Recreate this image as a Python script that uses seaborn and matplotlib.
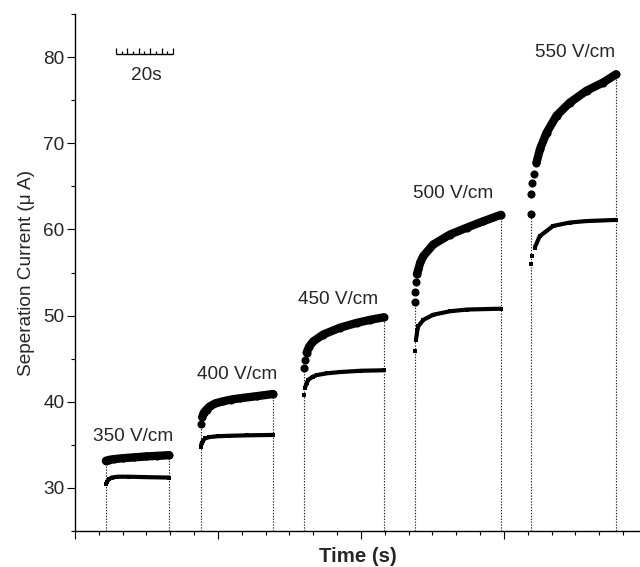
import numpy as np
import pandas as pd
import matplotlib
matplotlib.use("Agg")
import matplotlib.pyplot as plt
from matplotlib.ticker import MultipleLocator, FixedLocator, NullFormatter
import seaborn as sns

# ---------------- data ----------------
field_labels = ["350 V/cm", "400 V/cm", "450 V/cm", "500 V/cm", "550 V/cm"]
seg_start = [10.8, 44.0, 80.1, 118.9, 159.4]          # s, start of each run

# times relative to segment start (s) and current (uA)
t_up_350 = [0, 1, 3, 6, 10, 14, 18, 22.1]
i_up_350 = [33.15, 33.25, 33.35, 33.45, 33.55, 33.65, 33.72, 33.8]
t_lo_350 = [0, 0.4, 1, 2, 4, 8, 14, 22.1]
i_lo_350 = [30.4, 30.7, 31.0, 31.2, 31.3, 31.3, 31.25, 31.2]

t_up_400 = [0, 0.5, 1, 2, 3.1, 5, 7.7, 10.5, 13.6, 19.6, 25.3]
i_up_400 = [37.45, 38.2, 38.7, 39.1, 39.45, 39.8, 40.05, 40.25, 40.4, 40.65, 40.9]
t_lo_400 = [0, 0.3, 0.8, 1.5, 3, 6, 10, 16, 25.3]
i_lo_400 = [34.8, 35.2, 35.5, 35.75, 35.9, 36.0, 36.05, 36.1, 36.15]

t_up_450 = [0, 0.35, 0.9, 1.8, 3.2, 6.7, 12.6, 18.4, 23, 27.9]
i_up_450 = [43.9, 44.9, 45.7, 46.4, 47.0, 47.8, 48.6, 49.15, 49.5, 49.8]
t_lo_450 = [0, 0.3, 1.0, 1.5, 3.0, 4.5, 8, 12.6, 20, 27.9]
i_lo_450 = [40.8, 41.6, 42.2, 42.55, 42.9, 43.1, 43.3, 43.45, 43.6, 43.65]

t_up_500 = [0, 0.15, 0.35, 0.7, 1.15, 1.9, 2.9, 6.4, 12.2, 18.1, 23.9, 30.1]
i_up_500 = [51.55, 52.7, 53.9, 54.8, 55.35, 56.2, 56.9, 58.25, 59.4, 60.2, 60.95, 61.7]
t_lo_500 = [0, 0.35, 0.8, 1.15, 2.9, 6.4, 12.2, 18.1, 30.1]
i_lo_500 = [45.85, 47.2, 48.2, 48.75, 49.5, 50.1, 50.5, 50.7, 50.8]

t_up_550 = [0, 0.25, 0.5, 1.0, 2.0, 3.2, 5.5, 9.0, 13.6, 19.5, 25.3, 29.8]
i_up_550 = [61.75, 64.1, 65.4, 66.4, 67.75, 69.3, 71.2, 73.2, 74.7, 76.1, 77.05, 78.0]
t_lo_550 = [0, 0.4, 1.4, 3.1, 7.8, 13.6, 19.5, 29.8]
i_lo_550 = [56.0, 56.9, 57.9, 59.2, 60.4, 60.8, 60.97, 61.1]

# number of isolated onset samples before the trace becomes continuous
onset_up = [0, 1, 2, 3, 4]
onset_lo = [0, 0, 1, 1, 2]

t_up = [t_up_350, t_up_400, t_up_450, t_up_500, t_up_550]
i_up = [i_up_350, i_up_400, i_up_450, i_up_500, i_up_550]
t_lo = [t_lo_350, t_lo_400, t_lo_450, t_lo_500, t_lo_550]
i_lo = [i_lo_350, i_lo_400, i_lo_450, i_lo_500, i_lo_550]

scale_bar_start = 14.3
scale_bar_len = 20
scale_bar_label = "20s"

# ---------------- style ----------------
sns.set_style("ticks")
plt.rcParams["font.family"] = ["Liberation Sans", "DejaVu Sans"]
FS = 13.7

fig = plt.figure(figsize=(6.4, 5.67), dpi=100)
ax = fig.add_axes([75 / 640, 1 - 531 / 567, 1 - 75 / 640, (531 - 14) / 567])

YMIN, YMAX = 25, 85
ax.set_xlim(0, 197.6)
ax.set_ylim(YMIN, YMAX)

for k in range(5):
    x0 = seg_start[k]
    xu = np.array(t_up[k]) + x0
    yu = np.array(i_up[k])
    xl = np.array(t_lo[k]) + x0
    yl = np.array(i_lo[k])

    # dotted drop lines
    ax.vlines([xu[0], xu[-1]], YMIN, [yu[0], yu[-1]], colors="#222222",
              linestyles=(0, (1.2, 1.4)), linewidth=0.8, zorder=1)

    # upper trace: big circles
    du = pd.DataFrame({"t": xu, "I": yu})
    sns.lineplot(data=du.iloc[onset_up[k]:], x="t", y="I", ax=ax, color="black",
                 linewidth=6.0, solid_capstyle="round", sort=False,
                 estimator=None, zorder=3)
    sns.scatterplot(data=du, x="t", y="I", ax=ax, color="black", s=34,
                    marker="o", edgecolor="black", linewidth=0, zorder=4)

    # lower trace: small squares
    dl = pd.DataFrame({"t": xl, "I": yl})
    sns.lineplot(data=dl.iloc[onset_lo[k]:], x="t", y="I", ax=ax, color="black",
                 linewidth=3.0, solid_capstyle="butt", sort=False,
                 estimator=None, zorder=3)
    sns.scatterplot(data=dl, x="t", y="I", ax=ax, color="black", s=9,
                    marker="s", edgecolor="black", linewidth=0, zorder=4)

# field labels
label_pos_x = [20.5, 56.6, 92.0, 132.3, 174.8]
label_pos_y = [35.4, 42.6, 51.3, 63.7, 80.0]
for lab, lx, ly in zip(field_labels, label_pos_x, label_pos_y):
    ax.text(lx, ly, lab, ha="center", va="baseline", fontsize=FS)

# time scale bar
bar_y = 80.3
ax.plot([scale_bar_start, scale_bar_start + scale_bar_len], [bar_y, bar_y],
        color="black", linewidth=1.0, solid_capstyle="butt")
tick_x = scale_bar_start + np.arange(0, scale_bar_len + 0.1, 2)
tick_h = [0.8 if j % 2 == 0 else 0.45 for j in range(len(tick_x))]
ax.vlines(tick_x, bar_y, bar_y + np.array(tick_h), colors="black", linewidth=0.9)
ax.text(scale_bar_start + scale_bar_len / 2 + 0.5, 77.3, scale_bar_label,
        ha="center", va="baseline", fontsize=FS)

# axes
sns.despine(ax=ax, top=True, right=True)
for sp in ("left", "bottom"):
    ax.spines[sp].set_linewidth(1.0)
    ax.spines[sp].set_color("black")

ax.yaxis.set_major_locator(FixedLocator([30, 40, 50, 60, 70, 80]))
ax.yaxis.set_minor_locator(FixedLocator([25, 35, 45, 55, 65, 75, 85]))
ax.xaxis.set_major_locator(MultipleLocator(50))
ax.xaxis.set_minor_locator(MultipleLocator(50 / 6))
ax.xaxis.set_major_formatter(NullFormatter())
ax.tick_params(axis="both", which="major", direction="out", length=5.5,
               width=0.8, color="black", labelsize=FS, pad=2)
ax.tick_params(axis="both", which="minor", direction="out", length=3.2,
               width=0.8, color="black")

ax.set_xlabel("Time (s)", fontsize=FS + 1, fontweight="bold", labelpad=4)
ax.set_ylabel("Seperation Current (\u03bc A)", fontsize=FS, labelpad=6)

fig.savefig("out.png", dpi=100)
